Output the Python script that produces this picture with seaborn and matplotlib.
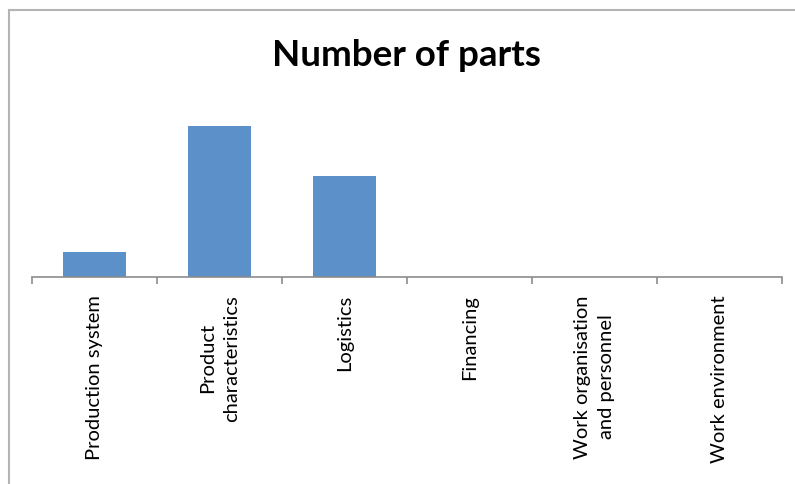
import matplotlib
matplotlib.use("Agg")
import matplotlib.pyplot as plt
from matplotlib.patches import Rectangle
import seaborn as sns
import pandas as pd

categories = [
    "Production system",
    "Product\ncharacteristics",
    "Logistics",
    "Financing",
    "Work organisation\nand personnel",
    "Work environment",
]
parts = [1, 6, 4, 0, 0, 0]
title = "Number of parts"

sns.set_style("white")
plt.rcParams["font.family"] = ["Lato", "DejaVu Sans"]
plt.rcParams["text.color"] = "black"
plt.rcParams["xtick.color"] = "black"

df = pd.DataFrame({"category": categories, "parts": parts})

fig = plt.figure(figsize=(7.95, 4.84), dpi=100)
ax = fig.add_axes([32 / 795, 1 - 277 / 484, 750 / 795, (277 - 100.6) / 484])

sns.barplot(data=df, x="category", y="parts", color="#5b90c8", width=0.5,
            saturation=1, ax=ax, linewidth=0)

ax.set_xlim(-0.5, len(categories) - 0.5)
ax.set_ylim(0, 7)
ax.set_xlabel("")
ax.set_ylabel("")
ax.set_yticks([])

for side in ("top", "right", "left"):
    ax.spines[side].set_visible(False)
ax.spines["bottom"].set_color("#8c8c8c")
ax.spines["bottom"].set_linewidth(1.2)

# category labels on major ticks, tick marks on category boundaries
ax.set_xticks(range(len(categories)))
ax.set_xticklabels(categories, rotation=90, ha="center", va="top",
                   multialignment="center", fontsize=14.5, color="black",
                   linespacing=1.45)
ax.tick_params(axis="x", which="major", bottom=True, length=0, pad=13)
ax.set_xticks([i - 0.5 for i in range(len(categories) + 1)], minor=True)
ax.tick_params(axis="x", which="minor", bottom=True, length=5, width=1.2,
               color="#8c8c8c", direction="out")

fig.text(406 / 795, 1 - 55 / 484, title, ha="center", va="center",
         fontsize=26.5, fontweight="bold", color="black")

# chart area border
fig.add_artist(Rectangle((9 / 795, -0.2), 1.2, 1.2 - 10 / 484,
                         transform=fig.transFigure, fill=False,
                         edgecolor="#b4b4b4", linewidth=1.5, clip_on=False))

fig.savefig("out.png", dpi=100)
